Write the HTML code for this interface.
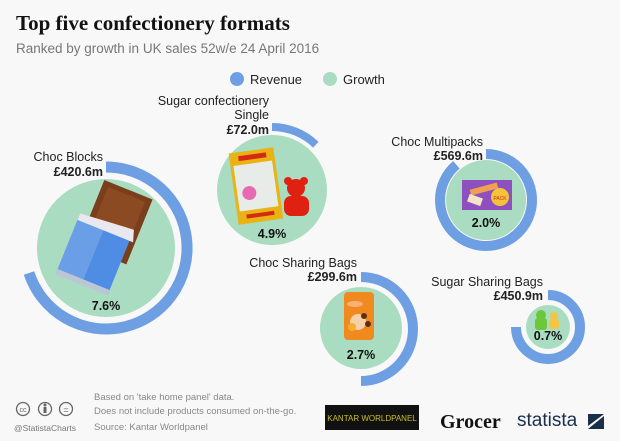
<!DOCTYPE html>
<html><head><meta charset="utf-8"><style>
body{margin:0;background:#f8f8f8;}
svg{display:block;font-family:"Liberation Sans",sans-serif;}
</style></head><body>
<svg width="620" height="441" viewBox="0 0 620 441">
<rect width="620" height="441" fill="#f8f8f8"/>
<text x="16" y="30" font-family="Liberation Serif,serif" font-weight="bold" font-size="21" fill="#111">Top five confectionery formats</text>
<text x="16" y="53" font-size="13.5" fill="#777">Ranked by growth in UK sales 52w/e 24 April 2016</text>
<circle cx="237" cy="79" r="7" fill="#6f9fe3"/><text x="250" y="84" font-size="13" fill="#222">Revenue</text>
<circle cx="330" cy="79" r="7" fill="#a9dcc0"/><text x="343" y="84" font-size="13" fill="#222">Growth</text>

<g fill="none" stroke="#6f9fe3">
<path d="M106 167 A81 81 0 1 1 29 273" stroke-width="11"/>
<path d="M272 127 A63 63 0 0 1 315.8 144.7" stroke-width="8"/>
<path d="M486 154 A46 46 0 1 1 456.4 164.8" stroke-width="10"/>
<path d="M361 277 A52 52 0 0 1 361 381" stroke-width="10"/>
<path d="M548 295 A32 32 0 1 1 516 327" stroke-width="10"/>
</g>
<g fill="#a9dcc0">
<circle cx="106" cy="248" r="69"/>
<circle cx="272" cy="190" r="55"/>
<circle cx="486" cy="200" r="40"/>
<circle cx="361" cy="328" r="41"/>
<circle cx="548" cy="327" r="22"/>
</g>
<g transform="rotate(22 106 240)">
<rect x="82" y="185" width="52" height="70" fill="#7a3e1c"/>
<path d="M88 190h40v60h-40z" fill="#8c4a22"/>
<rect x="72" y="225" width="56" height="65" fill="#6a9ee6"/>
<rect x="100" y="225" width="28" height="65" fill="#4f8de4"/>
<rect x="72" y="285" width="56" height="6" fill="#bcc7d6"/>
<path d="M72 225 L128 220 L132 232 L72 232z" fill="#e8e8ee"/>
</g>
<g transform="rotate(-8 256 183)">
<rect x="233" y="150" width="45" height="72" fill="#e9b316"/>
<rect x="236" y="163" width="39" height="46" fill="#e8ece8"/>
<circle cx="248" cy="192" r="7" fill="#e86bb0"/>
<rect x="242" y="154" width="28" height="5" fill="#d52a10"/>
<rect x="242" y="213" width="28" height="4" fill="#d52a10"/>
</g>
<g fill="#e02010"><circle cx="296" cy="188" r="9"/><rect x="284" y="196" width="25" height="20" rx="7"/><circle cx="288" cy="181" r="4"/><circle cx="304" cy="181" r="4"/></g>
<rect x="462" y="180" width="50" height="30" fill="#8e4fbf"/>
<rect x="470" y="186" width="28" height="6" fill="#f0a050" transform="rotate(-15 484 189)"/>
<rect x="468" y="196" width="14" height="8" fill="#f3e6c8" transform="rotate(20 475 200)"/>
<circle cx="500" cy="197" r="9" fill="#f5c23c"/>
<text x="500" y="200" font-size="5" text-anchor="middle" fill="#d03010">PACK</text>
<rect x="344" y="292" width="30" height="48" rx="4" fill="#f08a1e"/>
<ellipse cx="355" cy="304" rx="8" ry="3" fill="#f6b272"/>
<circle cx="358" cy="322" r="8" fill="#f6d0a8"/>
<circle cx="352" cy="327" r="4" fill="#f2b030"/><circle cx="364" cy="316" r="3" fill="#5a3018"/><circle cx="368" cy="324" r="3" fill="#5a3018"/>
<g fill="#6cc83a"><circle cx="541" cy="315" r="5"/><rect x="535" y="318" width="12" height="12" rx="3"/></g>
<g fill="#f2c640"><circle cx="554" cy="316" r="4"/><rect x="549" y="319" width="10" height="10" rx="3"/></g>

<g font-size="12.5" fill="#222" text-anchor="end">
<text x="103" y="161">Choc Blocks</text>
<text x="103" y="176" font-weight="bold">£420.6m</text>
<text x="269" y="105">Sugar confectionery</text>
<text x="269" y="119">Single</text>
<text x="269" y="134" font-weight="bold">£72.0m</text>
<text x="483" y="146">Choc Multipacks</text>
<text x="483" y="160" font-weight="bold">£569.6m</text>
<text x="357" y="267">Choc Sharing Bags</text>
<text x="357" y="281" font-weight="bold">£299.6m</text>
<text x="543" y="286">Sugar Sharing Bags</text>
<text x="543" y="300" font-weight="bold">£450.9m</text>
</g>
<g font-size="12.5" font-weight="bold" fill="#111" text-anchor="middle">
<text x="106" y="310">7.6%</text>
<text x="272" y="238">4.9%</text>
<text x="486" y="227">2.0%</text>
<text x="361" y="359">2.7%</text>
<text x="548" y="340">0.7%</text>
</g>

<g fill="none" stroke="#666" stroke-width="1.3">
<circle cx="23" cy="409" r="6.5"/><circle cx="45" cy="409" r="6.5"/><circle cx="66" cy="409" r="6.5"/>
</g>
<text x="23" y="412" font-size="7" text-anchor="middle" fill="#666">cc</text>
<text x="66" y="413" font-size="9" text-anchor="middle" fill="#666">=</text>
<circle cx="45" cy="405" r="1.5" fill="#666"/><rect x="43.5" y="407" width="3" height="6" fill="#666"/>
<text x="14" y="431" font-size="8.5" fill="#777">@StatistaCharts</text>
<g font-size="9.5" fill="#888">
<text x="94" y="400">Based on 'take home panel' data.</text>
<text x="94" y="414">Does not include products consumed on-the-go.</text>
<text x="94" y="430">Source: Kantar Worldpanel</text>
</g>
<rect x="325" y="405" width="94" height="25" fill="#111"/>
<text x="372" y="421" font-size="8" fill="#c8c020" text-anchor="middle">KANTAR WORLDPANEL</text>
<text x="440" y="428" font-family="Liberation Serif,serif" font-weight="bold" font-size="20" fill="#111">Grocer</text>
<text x="517" y="426" font-size="19" fill="#1a2f4a">statista</text>
<path d="M588 414h16l-16 12z" fill="#1a2f4a"/><path d="M604 416v13h-16z" fill="#1a2f4a"/>
</svg>
</body></html>
